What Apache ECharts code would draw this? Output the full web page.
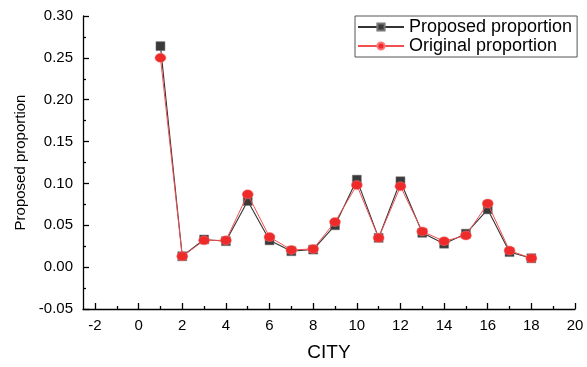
<!DOCTYPE html>
<html><head><meta charset="utf-8">
<script src="https://cdn.jsdelivr.net/npm/echarts@6/dist/echarts.min.js"></script>
<style>html,body{margin:0;padding:0;background:#fff}#c{width:587px;height:367px}</style>
</head><body><div id="c"></div>
<script>
const cities = [1,2,3,4,5,6,7,8,9,10,11,12,13,14,15,16,17,18];
const proposed = [0.264,0.013,0.033,0.031,0.079,0.032,0.019,0.021,0.050,0.1045,0.035,0.1026,0.041,0.028,0.040,0.069,0.018,0.0106];
const original = [0.250,0.013,0.032,0.032,0.087,0.036,0.0206,0.0217,0.054,0.098,0.035,0.0965,0.0427,0.031,0.0378,0.076,0.0198,0.0106];
const xMajorTicks = [-2,0,2,4,6,8,10,12,14,16,18,20];
const xMinorTicks = [-1,1,3,5,7,9,11,13,15,17,19];
const yTickLabels = ['-0.05','0.00','0.05','0.10','0.15','0.20','0.25','0.30'];

const font = 'Liberation Sans, Arial, sans-serif';
const chart = echarts.init(document.getElementById('c'));
chart.setOption({
  animation:false,
  backgroundColor:'#fff',
  grid:{left:83,right:12,top:16,bottom:45},
  legend:{
    orient:'vertical', left:355, top:16,
    borderColor:'#555', borderWidth:1, padding:[2,5,2,2],
    itemWidth:46, itemHeight:9, itemGap:1,
    textStyle:{fontFamily:font,fontSize:18,lineHeight:16,color:'#000'},
    data:['Proposed proportion','Original proportion']
  },
  xAxis:[{
    type:'value', min:-2.55, max:20,
    name:'CITY', nameLocation:'middle', nameGap:34,
    nameTextStyle:{fontFamily:font,fontSize:19,color:'#000'},
    axisLine:{onZero:false,lineStyle:{color:'#000',width:1.3}},
    axisTick:{inside:true,length:6,lineStyle:{color:'#000',width:1.3},customValues:xMajorTicks},
    axisLabel:{fontFamily:font,fontSize:15,color:'#000',margin:9,customValues:xMajorTicks},
    splitLine:{show:false}
  },{
    type:'value', min:-2.55, max:20, position:'bottom',
    axisLine:{show:false,onZero:false},
    axisTick:{inside:true,length:3,lineStyle:{color:'#000',width:1.3},customValues:xMinorTicks},
    axisLabel:{show:false},
    splitLine:{show:false}
  }],
  yAxis:{
    type:'value', min:-0.05, max:0.30, interval:0.05,
    name:'Proposed proportion', nameLocation:'middle', nameGap:54,
    nameTextStyle:{fontFamily:font,fontSize:15,color:'#000'},
    axisLine:{show:true,onZero:false,lineStyle:{color:'#000',width:1.3}},
    axisTick:{show:true,inside:true,length:6,lineStyle:{color:'#000',width:1.3}},
    minorTick:{show:true,splitNumber:2,length:3,lineStyle:{color:'#000',width:1.3}},
    axisLabel:{fontFamily:font,fontSize:15,color:'#000',margin:10,
      formatter:v=>{const i=Math.round((v+0.05)/0.05);return yTickLabels[i]!==undefined?yTickLabels[i]:v.toFixed(2);}},
    splitLine:{show:false}
  },
  series:[{
    name:'Proposed proportion', type:'line',
    data:cities.map((c,i)=>[c,proposed[i]]),
    symbol:'rect', symbolSize:9,
    lineStyle:{color:'#333',width:1.1},
    itemStyle:{color:'#3a3a3a',borderColor:'#777',borderWidth:0.5},
    z:2
  },{
    name:'Original proportion', type:'line',
    data:cities.map((c,i)=>[c,original[i]]),
    symbol:'circle', symbolSize:[11,9],
    lineStyle:{color:'#f25050',width:1},
    itemStyle:{color:'#ee2b2b',borderColor:'#ff7777',borderWidth:0.5},
    z:3
  }]
});
</script></body></html>
